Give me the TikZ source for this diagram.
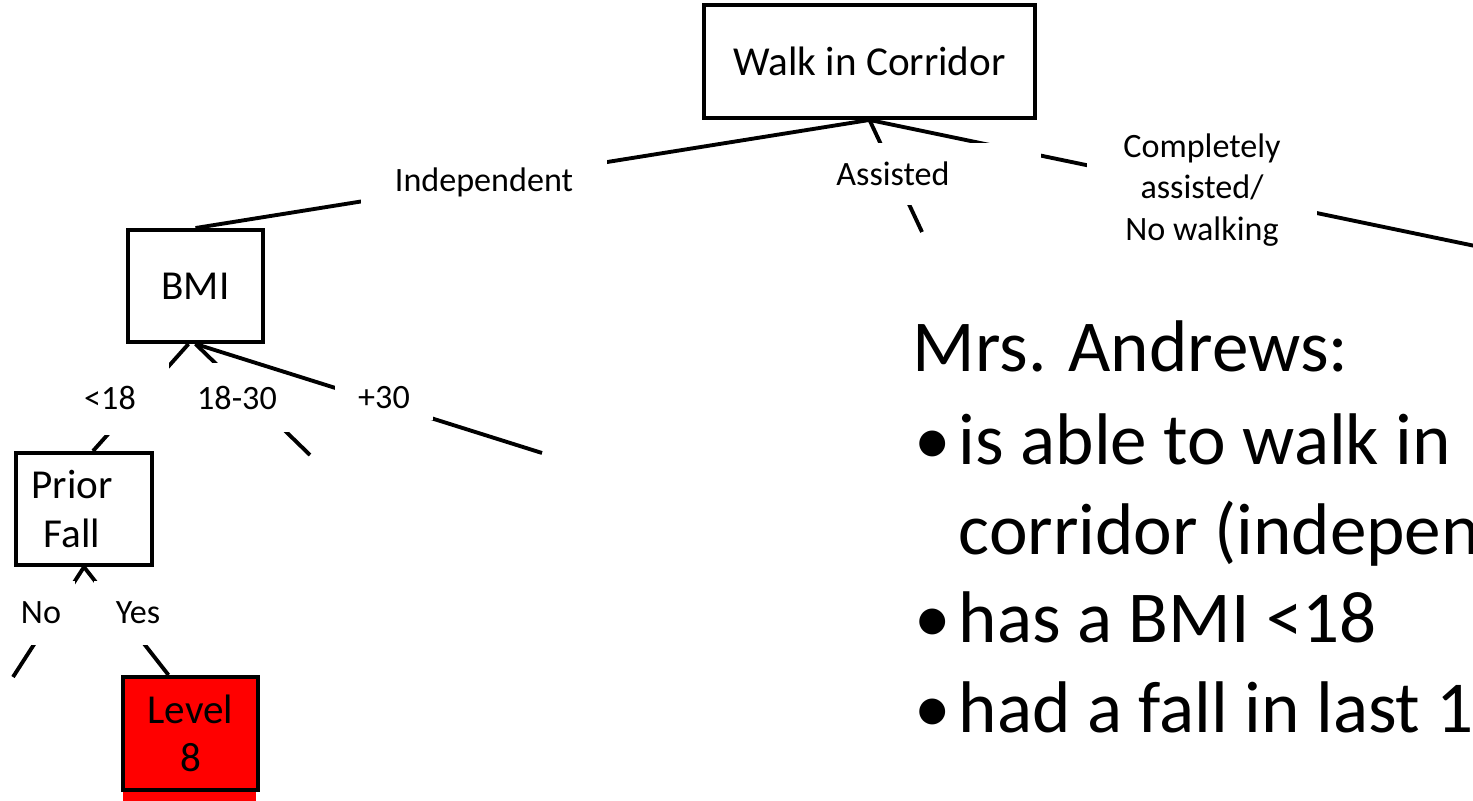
\documentclass[tikz,border=0pt]{standalone}
\usepackage{fontspec}
\setmainfont{Carlito}
\newcommand\boxfont{\fontsize{11.7}{13.8}\selectfont}
\newcommand\lblfont{\fontsize{9.7}{11.7}\selectfont}
\newcommand\bigfont{\fontsize{20.8}{25}\selectfont}
\tikzset{
  tree box/.style={draw, line width=1.1pt, inner sep=0pt, align=center, font=\boxfont},
  branch/.style={line width=1.1pt},
  cut/.style={fill=white, inner sep=0pt, align=center, font=\lblfont},
  note/.style={anchor=base west, inner sep=0pt, font=\bigfont}
}
\begin{document}
\begin{tikzpicture}[x=0.01cm, y=-0.01cm]
\useasboundingbox (0,0) rectangle (1473,801);
% decision boxes
\node[tree box, minimum width=3.3cm, minimum height=1.13cm] (walk) at (869.5,61.5) {Walk in Corridor};
\node[tree box, minimum width=1.35cm, minimum height=1.12cm] (bmi) at (195.5,286) {BMI};
\node[tree box, minimum width=1.36cm, minimum height=1.12cm] (prior) at (84,509) {Prior\rule{0.24cm}{0pt}\\Fall\rule{0.24cm}{0pt}};
\fill[red] (123,785) rectangle (256,801);
\node[tree box, fill=red, minimum width=1.35cm, minimum height=1.13cm] (level) at (190.5,733.5) {Level\\8};
% loose ends
\coordinate (walkright) at (1600,272);
\coordinate (assistend) at (922,232);
\coordinate (midend) at (310,455);
\coordinate (farend) at (542,453);
\coordinate (noend) at (13,677);
% first split
\draw[branch] (walk.south) -- (bmi.north);
\node[cut, minimum width=2.45cm, minimum height=0.48cm] (indep) at (484,182) {Independent};
\draw[branch] (walk.south) -- (walkright);
\node[cut, minimum width=2.3cm, minimum height=1.2cm] (compl) at (1202,190) {Completely\\assisted/\\No walking};
\draw[branch] (walk.south) -- (assistend);
\node[cut, minimum width=2.95cm, minimum height=0.62cm] (assist) at (893,174) {Assisted};
% bmi split
\draw[branch] ([xshift=-0.07cm]bmi.south) -- ([xshift=0.09cm]prior.north);
\node[cut, minimum width=1.18cm, minimum height=0.74cm] (low) at (110,398) {<18};
\draw[branch] (bmi.south) -- (midend);
\node[cut, minimum width=1.04cm, minimum height=0.69cm] (normal) at (237,397.5) {18-30};
\draw[branch] (bmi.south) -- (farend);
\node[cut, minimum width=0.98cm, minimum height=0.44cm] (high) at (384,398) {+30};
% prior fall split
\draw[branch] (prior.south) -- (noend);
\node[cut, minimum width=0.68cm, minimum height=0.64cm] (no) at (41,613) {No};
\draw[branch] (prior.south) -- ([xshift=-0.22cm]level.north);
\node[cut, minimum width=0.88cm, minimum height=0.64cm] (yes) at (138,613) {Yes};
% patient text
\node[note] (who) at (912,372) {Mrs. Andrews:};
\foreach \y/\t [count=\i] in {465/{is able to walk in}, 555/{corridor (indepen}, 643/{has a BMI <18}, 733/{had a fall in last 1}}
  \node[note] (line\i) at (958,\y) {\t};
\foreach \y in {465,643,733}
  \node[note] (dot\y) at (914,\y) {\textbullet};
\end{tikzpicture}
\end{document}
